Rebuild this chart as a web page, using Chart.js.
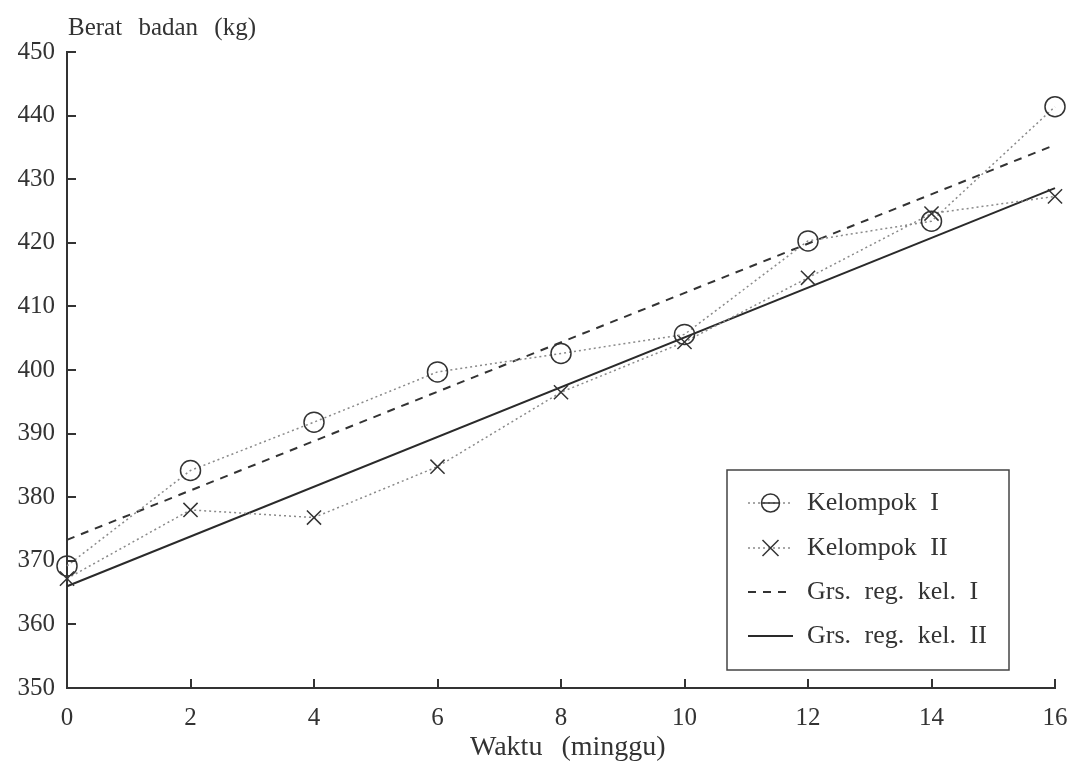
<!DOCTYPE html>
<html>
<head>
<meta charset="utf-8">
<script src="https://cdn.jsdelivr.net/npm/chart.js@4.4.1/dist/chart.umd.min.js"></script>
<style>
  html, body { margin: 0; padding: 0; background: #ffffff; }
  #wrap { width: 1072px; height: 774px; position: relative; }
</style>
</head>
<body>
<div id="wrap"><canvas id="c"></canvas></div>
<script>
// ---- data ----
const weeks = [0, 2, 4, 6, 8, 10, 12, 14, 16];
const kelompok1 = [369.2, 384.2, 391.8, 399.7, 402.6, 405.6, 420.3, 423.4, 441.4];
const kelompok2 = [367.2, 378.0, 376.8, 384.8, 396.5, 404.4, 414.5, 424.6, 427.3];
const regX = [0, 16];
const reg1 = [373.3, 435.4];
const reg2 = [366.0, 428.6];
const yTicks = [350, 360, 370, 380, 390, 400, 410, 420, 430, 440, 450];
const xTicks = [0, 2, 4, 6, 8, 10, 12, 14, 16];
const seriesLabels = ['Kelompok I', 'Kelompok II', 'Grs. reg. kel. I', 'Grs. reg. kel. II'];
const yTitle = 'Berat badan (kg)';
const xTitle = 'Waktu (minggu)';

const FONT = '"Liberation Serif", "DejaVu Serif", serif';
const INK = '#333333';

const pts = (xs, ys) => xs.map((x, i) => ({ x: x, y: ys[i] }));

const overlay = {
  id: 'overlay',
  afterDraw(chart) {
    const ctx = chart.ctx;
    const ca = chart.chartArea;
    const xs = chart.scales.x, ys = chart.scales.y;
    ctx.save();
    // inward tick marks
    ctx.strokeStyle = INK;
    ctx.lineWidth = 2;
    ctx.beginPath();
    yTicks.forEach(v => {
      const p = Math.round(ys.getPixelForValue(v));
      ctx.moveTo(ca.left, p); ctx.lineTo(ca.left + 9, p);
    });
    xTicks.forEach(v => {
      const p = Math.round(xs.getPixelForValue(v));
      ctx.moveTo(p, ca.bottom); ctx.lineTo(p, ca.bottom - 9);
    });
    ctx.stroke();

    // axis titles
    ctx.fillStyle = INK;
    ctx.textBaseline = 'middle';
    ctx.wordSpacing = '10px';
    ctx.font = '25px ' + FONT;
    ctx.textAlign = 'left';
    ctx.fillText(yTitle, ca.left + 1, 28);
    ctx.wordSpacing = '12px';
    ctx.font = '28px ' + FONT;
    ctx.textAlign = 'left';
    ctx.fillText(xTitle, 470, 748);

    // legend box
    const bx = 727, by = 470, bw = 282, bh = 200;
    ctx.lineWidth = 1.5;
    ctx.strokeStyle = '#444';
    ctx.strokeRect(bx, by, bw, bh);
    const rows = [503, 548, 592, 636];
    chart.data.datasets.forEach((ds, i) => {
      const y = rows[i];
      const x0 = 748, x1 = 793, xm = (x0 + x1) / 2;
      ctx.save();
      ctx.strokeStyle = ds.borderColor;
      ctx.lineWidth = ds.borderWidth;
      ctx.setLineDash(ds.borderDash || []);
      ctx.beginPath(); ctx.moveTo(x0, y); ctx.lineTo(x1, y); ctx.stroke();
      ctx.restore();
      if (ds.pointStyle === 'circle') {
        ctx.strokeStyle = INK; ctx.lineWidth = 1.5;
        ctx.beginPath(); ctx.arc(xm, y, 9, 0, Math.PI * 2); ctx.stroke();
        ctx.beginPath(); ctx.moveTo(xm - 9, y); ctx.lineTo(xm + 9, y); ctx.stroke();
      } else if (ds.pointStyle === 'crossRot') {
        ctx.strokeStyle = INK; ctx.lineWidth = 1.5;
        const r = 8;
        ctx.beginPath();
        ctx.moveTo(xm - r, y - r); ctx.lineTo(xm + r, y + r);
        ctx.moveTo(xm - r, y + r); ctx.lineTo(xm + r, y - r);
        ctx.stroke();
      }
      ctx.fillStyle = INK;
      ctx.font = '26px ' + FONT;
      ctx.wordSpacing = '7px';
      ctx.textAlign = 'left';
      ctx.textBaseline = 'middle';
      ctx.fillText(ds.label, 807, y);
    });
    ctx.restore();
  }
};

new Chart(document.getElementById('c'), {
  type: 'line',
  data: {
    datasets: [
      {
        label: seriesLabels[0], data: pts(weeks, kelompok1),
        borderColor: '#8a8a8a', borderWidth: 1.5, borderDash: [2, 3],
        pointStyle: 'circle', pointRadius: 10, pointBorderWidth: 1.5,
        pointBorderColor: INK, pointBackgroundColor: 'rgba(0,0,0,0)', tension: 0, clip: false
      },
      {
        label: seriesLabels[1], data: pts(weeks, kelompok2),
        borderColor: '#8a8a8a', borderWidth: 1.5, borderDash: [2, 3],
        pointStyle: 'crossRot', pointRadius: 10, pointBorderWidth: 1.5,
        pointBorderColor: INK, pointBackgroundColor: 'rgba(0,0,0,0)', tension: 0, clip: false
      },
      {
        label: seriesLabels[2], data: pts(regX, reg1),
        borderColor: '#333', borderWidth: 2, borderDash: [8, 7],
        pointRadius: 0, tension: 0, clip: false
      },
      {
        label: seriesLabels[3], data: pts(regX, reg2),
        borderColor: '#2a2a2a', borderWidth: 2,
        pointRadius: 0, tension: 0, clip: false
      }
    ]
  },
  options: {
    responsive: true,
    maintainAspectRatio: false,
    animation: false,
    layout: { padding: { left: 0, right: 17, top: 52, bottom: 0 } },
    plugins: { legend: { display: false }, tooltip: { enabled: false }, title: { display: false } },
    scales: {
      x: {
        type: 'linear', min: 0, max: 16,
        afterBuildTicks: s => { s.ticks = xTicks.map(v => ({ value: v })); },
        afterFit: s => { s.height = 86; s.paddingLeft = 0; s.paddingRight = 0; },
        grid: { display: true, drawOnChartArea: false, drawTicks: false },
        border: { display: true, color: INK, width: 2 },
        ticks: { color: INK, font: { family: FONT, size: 25 }, padding: 15, maxRotation: 0, autoSkip: false },
        title: { display: false }
      },
      y: {
        type: 'linear', min: 350, max: 450,
        afterBuildTicks: s => { s.ticks = yTicks.map(v => ({ value: v })); },
        afterFit: s => { s.width = 67; s.paddingTop = 0; s.paddingBottom = 0; },
        grid: { display: true, drawOnChartArea: false, drawTicks: false },
        border: { display: true, color: INK, width: 2 },
        ticks: { color: INK, font: { family: FONT, size: 25 }, padding: 12, autoSkip: false }
      }
    }
  },
  plugins: [overlay]
});
</script>
</body>
</html>
